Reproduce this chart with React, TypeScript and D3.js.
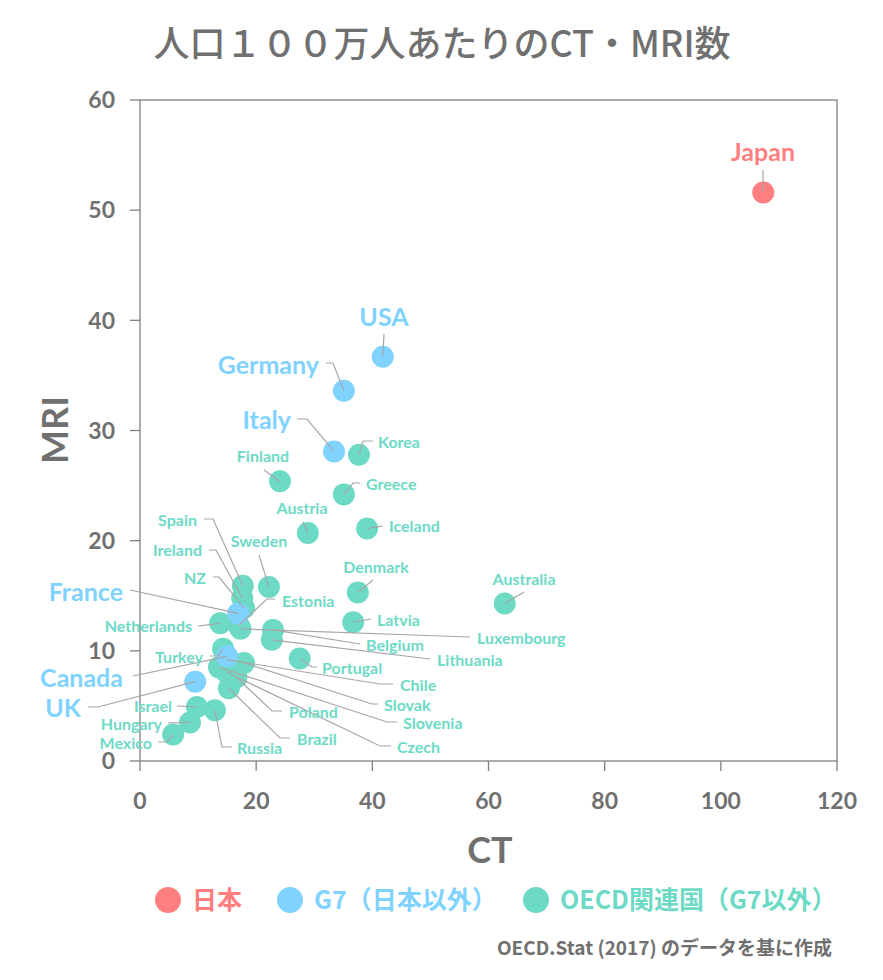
import React from "react";
import * as d3 from "d3";

// 国名・グループ・値（人口100万人あたり）
const names = [
  "Japan", "USA", "Germany", "Italy", "France", "Canada", "UK",
  "Korea", "Finland", "Greece", "Austria", "Iceland", "Spain", "Ireland", "NZ",
  "Sweden", "Estonia", "Netherlands", "Luxembourg", "Belgium", "Lithuania",
  "Portugal", "Denmark", "Latvia", "Australia", "Turkey", "Chile", "Slovak",
  "Slovenia", "Czech", "Poland", "Brazil", "Russia", "Israel", "Hungary", "Mexico",
];
const groups = [
  "jp", "g7", "g7", "g7", "g7", "g7", "g7",
  "oecd", "oecd", "oecd", "oecd", "oecd", "oecd", "oecd", "oecd",
  "oecd", "oecd", "oecd", "oecd", "oecd", "oecd",
  "oecd", "oecd", "oecd", "oecd", "oecd", "oecd", "oecd",
  "oecd", "oecd", "oecd", "oecd", "oecd", "oecd", "oecd", "oecd",
];
const ctValues = [
  107.3, 41.8, 35.1, 33.4, 16.9, 15.0, 9.5,
  37.7, 24.1, 35.1, 28.9, 39.1, 17.7, 17.6, 17.9,
  22.2, 17.0, 13.8, 17.3, 22.9, 22.7,
  27.5, 37.5, 36.7, 62.8, 14.3, 14.9, 17.9,
  13.6, 14.8, 16.6, 15.3, 12.9, 9.8, 8.6, 5.7,
];
const mriValues = [
  51.6, 36.7, 33.6, 28.1, 13.4, 9.5, 7.2,
  27.8, 25.4, 24.2, 20.7, 21.1, 15.9, 14.8, 13.9,
  15.8, 12.3, 12.5, 12.0, 11.9, 11.0,
  9.3, 15.3, 12.6, 14.3, 10.2, 9.2, 8.9,
  8.5, 8.1, 7.6, 6.6, 4.6, 4.9, 3.5, 2.4,
];
const xTicks = [0, 20, 40, 60, 80, 100, 120];
const yTicks = [0, 10, 20, 30, 40, 50, 60];
const groupKeys = ["jp", "g7", "oecd"];
const legendLabels = ["日本", "G7（日本以外）", "OECD関連国（G7以外）"];

const colors: Record<string, string> = { jp: "#FF7F80", g7: "#80D2FF", oecd: "#6DDAC6" };
const GRAY = "#707070";
const LINE = "#A6A6A6";
const FONT = "Lato, 'Noto Sans CJK JP', sans-serif";
const JFONT = "'Noto Sans CJK JP', sans-serif";

const W = 883;
const H = 980;
const margin = { left: 140, top: 100, right: 46, bottom: 219 };

// ラベルの位置（テキスト位置と引き出し線の折れ点）
type Lbl = { x: number; y: number; a: "start" | "end" | "middle"; big?: boolean; via: [number, number][] };
const labelLayout: Record<string, Lbl> = {
  Japan: { x: 763, y: 152, a: "middle", big: true, via: [[763, 170]] },
  USA: { x: 384, y: 317, a: "middle", big: true, via: [[384, 334]] },
  Germany: { x: 319, y: 365, a: "end", big: true, via: [[326, 363], [333, 363]] },
  Italy: { x: 291, y: 420, a: "end", big: true, via: [[297, 419], [307, 419]] },
  France: { x: 123, y: 592, a: "end", big: true, via: [[130, 590]] },
  Canada: { x: 123, y: 678, a: "end", big: true, via: [[133, 676]] },
  UK: { x: 81, y: 708, a: "end", big: true, via: [[88, 707], [98, 707]] },
  Korea: { x: 378, y: 442, a: "start", via: [[373, 441], [363, 441]] },
  Finland: { x: 263, y: 456, a: "middle", via: [[264, 470]] },
  Greece: { x: 366, y: 484, a: "start", via: [[360, 483], [353, 483]] },
  Austria: { x: 302, y: 508, a: "middle", via: [[303, 522]] },
  Iceland: { x: 389, y: 526, a: "start", via: [[383, 526]] },
  Spain: { x: 197, y: 520, a: "end", via: [[204, 519], [213, 519]] },
  Ireland: { x: 202, y: 550, a: "end", via: [[209, 550], [216, 550]] },
  NZ: { x: 206, y: 578, a: "end", via: [[213, 577], [219, 577]] },
  Sweden: { x: 259, y: 541, a: "middle", via: [[259, 555]] },
  Estonia: { x: 282, y: 601, a: "start", via: [[275, 599], [267, 599]] },
  Netherlands: { x: 192, y: 626, a: "end", via: [[198, 626]] },
  Luxembourg: { x: 477, y: 638, a: "start", via: [[470, 637]] },
  Belgium: { x: 366, y: 645, a: "start", via: [[360, 644]] },
  Lithuania: { x: 437, y: 660, a: "start", via: [[430, 659]] },
  Portugal: { x: 322, y: 668, a: "start", via: [[317, 667], [312, 667]] },
  Denmark: { x: 376, y: 567, a: "middle", via: [[373, 580]] },
  Latvia: { x: 377, y: 620, a: "start", via: [[371, 619]] },
  Australia: { x: 524, y: 579, a: "middle", via: [[524, 592]] },
  Turkey: { x: 203, y: 657, a: "end", via: [[210, 656], [218, 656]] },
  Chile: { x: 400, y: 685, a: "start", via: [[393, 684], [380, 684]] },
  Slovak: { x: 384, y: 705, a: "start", via: [[378, 704], [372, 704]] },
  Slovenia: { x: 403, y: 723, a: "start", via: [[397, 722], [387, 722]] },
  Czech: { x: 397, y: 747, a: "start", via: [[391, 746], [380, 746]] },
  Poland: { x: 289, y: 712, a: "start", via: [[282, 711], [272, 711]] },
  Brazil: { x: 297, y: 739, a: "start", via: [[290, 738], [280, 738]] },
  Russia: { x: 237, y: 748, a: "start", via: [[232, 747], [222, 747]] },
  Israel: { x: 172, y: 706, a: "end", via: [[177, 706]] },
  Hungary: { x: 162, y: 724, a: "end", via: [[168, 723]] },
  Mexico: { x: 152, y: 743, a: "end", via: [[158, 742], [167, 742]] },
};

export default function App() {
  const x = d3.scaleLinear().domain([0, 120]).range([margin.left, W - margin.right]);
  const y = d3.scaleLinear().domain([0, 60]).range([H - margin.bottom, margin.top]);
  const [x0, x1] = x.range();
  const [y0, y1] = y.range();

  const pts = names.map((n, i) => ({
    name: n,
    group: groups[i],
    px: x(ctValues[i]),
    py: y(mriValues[i]),
  }));
  const order = ["oecd", "g7", "jp"];
  const drawPts = [...pts].sort((a, b) => order.indexOf(a.group) - order.indexOf(b.group));
  const line = d3.line();

  const legendX = [168, 290, 536];

  return (
    <svg width={W} height={H} style={{ position: "absolute", left: 0, top: 0, background: "#fff" }}>
      <text x={442} y={57} textAnchor="middle" fontFamily={JFONT} fontWeight={500} fontSize={36} fill={GRAY}>
        人口１００万人あたりのCT・MRI数
      </text>

      {/* 枠 */}
      <rect x={x0} y={y1} width={x1 - x0} height={y0 - y1} fill="none" stroke="#808080" strokeWidth={1.3} />

      {yTicks.map((t) => (
        <g key={"y" + t}>
          <line x1={x0 - 10} x2={x0} y1={y(t)} y2={y(t)} stroke="#808080" strokeWidth={1.3} />
          <text x={x0 - 25} y={y(t)} dy="0.36em" textAnchor="end" fontFamily={FONT} fontWeight={700} fontSize={23} fill={GRAY}>
            {t}
          </text>
        </g>
      ))}
      {xTicks.map((t) => (
        <g key={"x" + t}>
          <line x1={x(t)} x2={x(t)} y1={y0} y2={y0 + 10} stroke="#808080" strokeWidth={1.3} />
          <text x={x(t)} y={y0 + 40} dy="0.36em" textAnchor="middle" fontFamily={FONT} fontWeight={700} fontSize={23} fill={GRAY}>
            {t}
          </text>
        </g>
      ))}

      <text x={490} y={850} dy="0.36em" textAnchor="middle" fontFamily={FONT} fontWeight={700} fontSize={36} fill={GRAY}>
        CT
      </text>
      <text transform="translate(55,430) rotate(-90)" dy="0.36em" textAnchor="middle" fontFamily={FONT} fontWeight={700} fontSize={36} fill={GRAY}>
        MRI
      </text>

      {drawPts.map((p) => (
        <circle key={"c" + p.name} cx={p.px} cy={p.py} r={11} fill={colors[p.group]} />
      ))}

      {pts.map((p) => {
        const l = labelLayout[p.name];
        const path = line([...l.via, [p.px, p.py]] as [number, number][]);
        return <path key={"l" + p.name} d={path || ""} fill="none" stroke={LINE} strokeWidth={1.2} />;
      })}

      {pts.map((p) => {
        const l = labelLayout[p.name];
        return (
          <text
            key={"t" + p.name}
            x={l.x}
            y={l.y}
            dy="0.36em"
            textAnchor={l.a}
            fontFamily={FONT}
            fontWeight={700}
            fontSize={l.big ? 25 : 16}
            fill={colors[p.group]}
          >
            {p.name}
          </text>
        );
      })}

      {groupKeys.map((g, i) => (
        <g key={"lg" + g}>
          <circle cx={legendX[i]} cy={900} r={13} fill={colors[g]} />
          <text x={legendX[i] + 24} y={900} dy="0.36em" fontFamily={JFONT} fontWeight={700} fontSize={25} fill={colors[g]}>
            {legendLabels[i]}
          </text>
        </g>
      ))}

      <text x={832} y={948} dy="0.36em" textAnchor="end" fontFamily={JFONT} fontWeight={700} fontSize={19} fill={GRAY}>
        OECD.Stat (2017) のデータを基に作成
      </text>
    </svg>
  );
}
